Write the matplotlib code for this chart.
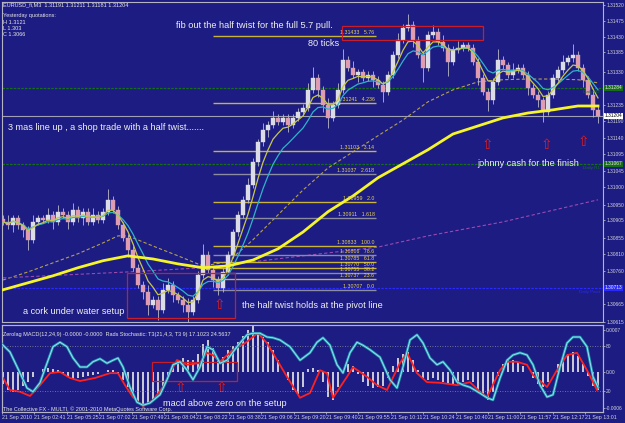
import numpy as np
import pandas as pd
import matplotlib
matplotlib.use('Agg')
import matplotlib.pyplot as plt
from matplotlib.patches import Rectangle

# ---- price data, in pips above 1.30000, one value per bar ----
closes = [90.1, 89.2, 91.2, 89.2, 87.8, 85.0, 90.1, 91.2, 90.7, 92.1,
          90.1, 93.0, 92.1, 90.1, 93.5, 91.2, 93.0, 90.1, 92.1, 90.7,
          93.0, 96.4, 93.5, 89.2, 85.5, 82.1, 77.0, 72.1, 70.1, 66.4,
          67.8, 65.0, 70.7, 72.1, 69.2, 67.8, 66.4, 64.4, 67.8, 75.0,
          80.7, 76.4, 73.5, 71.2, 75.8, 80.7, 87.2, 92.1, 96.4, 100.7,
          107.2, 112.9, 116.4, 117.8, 119.8, 118.7, 119.8, 117.8, 119.8, 121.5,
          122.7, 127.8, 131.2, 127.8, 123.5, 119.8, 123.5, 127.8, 136.4, 134.1,
          132.1, 132.9, 131.2, 132.1, 130.7, 129.2, 127.2, 132.1, 137.8, 142.1,
          145.5, 146.4, 142.1, 137.8, 134.1, 143.5, 144.4, 141.5, 139.8, 135.8,
          139.2, 139.8, 140.6, 139.8, 135.8, 131.2, 127.2, 124.9, 130.1, 136.4,
          134.9, 132.1, 133.5, 134.1, 132.1, 128.4, 126.4, 124.9, 121.5, 126.4,
          131.2, 133.5, 135.8, 136.9, 137.8, 134.1, 130.7, 126.4, 122.1, 120.4]
wick_up = [1, 2, 1, 1, 1, 1, 2, 1, 1, 2, 1, 2, 1, 1, 2, 1, 1, 1, 2, 1,
           1, 3, 1, 1, 1, 1, 1, 1, 1, 2, 1, 1, 2, 2, 1, 1, 1, 2, 1, 1,
           3, 1, 1, 1, 1, 1, 1, 1, 1, 2, 1, 1, 2, 1, 2, 1, 1, 1, 1, 1,
           1, 2, 3, 1, 1, 2, 1, 2, 3, 1, 2, 1, 1, 1, 1, 1, 1, 1, 1, 2,
           1, 3, 1, 1, 1, 1, 2, 1, 2, 1, 1, 2, 1, 1, 1, 1, 1, 1, 1, 3,
           1, 1, 2, 1, 1, 1, 1, 1, 1, 1, 1, 1, 2, 1, 3, 1, 1, 1, 1, 1]
wick_dn = [1, 1, 2, 1, 2, 3, 1, 1, 1, 1, 2, 1, 1, 2, 1, 1, 2, 1, 1, 1,
           1, 1, 1, 1, 1, 2, 1, 1, 2, 3, 1, 3, 1, 1, 2, 1, 2, 3, 1, 1,
           1, 1, 2, 2, 1, 1, 1, 1, 1, 1, 1, 1, 1, 2, 1, 1, 1, 2, 1, 1,
           1, 1, 1, 2, 2, 3, 1, 1, 1, 1, 1, 2, 1, 1, 2, 1, 3, 1, 1, 1,
           1, 1, 2, 1, 4, 1, 1, 1, 1, 4, 1, 1, 1, 1, 1, 2, 1, 3, 1, 1,
           1, 1, 1, 1, 1, 2, 1, 2, 3, 1, 1, 1, 1, 1, 1, 1, 2, 1, 2, 2]
first_open = 91.0

# slow moving averages, read every few bars
yel_bars = [0, 5, 10, 15, 20, 25, 30, 35, 40, 45, 50, 55, 60, 65, 70, 75, 80, 85, 90, 95, 100, 105, 110, 115, 119]
yel_ma = [70.7, 72.7, 74.7, 77.0, 79.0, 80.4, 79.5, 78.1, 77.0, 77.5, 79.2, 82.4, 87.2, 93.0, 97.5,
          102.7, 106.7, 110.7, 115.2, 117.5, 119.8, 121.2, 122.1, 123.2, 123.2]
tan_bars = [0, 5, 10, 15, 20, 23, 25, 30, 35, 40, 45, 50, 55, 60, 65, 70, 75, 80, 85, 90, 95, 100, 105, 110, 115, 119]
tan_ma = [73.5, 75.8, 78.4, 81.0, 84.1, 86.1, 86.1, 83.2, 80.4, 77.5, 78.7, 85.0, 92.1, 99.2, 105.5,
          110.1, 114.7, 119.2, 124.4, 127.8, 130.1, 130.7, 130.9, 130.9, 130.7, 129.8]
pur_bars = [0, 25, 40, 50, 60, 75, 85, 100, 119]
pur_ma = [74.1, 75.8, 77.0, 78.7, 80.4, 82.9, 86.1, 90.1, 96.4]

# fibonacci levels
fib_prices = [1.31433, 1.31241, 1.31103, 1.31037, 1.30959, 1.30911, 1.30833,
              1.30806, 1.30785, 1.30770, 1.30755, 1.30737, 1.30707]
fib_ratios = ['5.76', '4.236', '3.14', '2.618', '2.0', '1.618', '100.0',
              '78.6', '61.8', '50.0', '38.2', '23.6', '0.0']
fib_grey = [0, 0, 0, 1, 0, 1, 0, 1, 0, 0, 1, 0, 1]
fib_from, fib_to = 42, 74.6

# pivot lines and current price
pivot_prices = [1.31284, 1.31067, 1.30713]
pivot_names = ['Daily R2', 'Daily R1', 'Daily Pivot']
pivot_colors = ['#157015', '#157015', '#2a2aff']
last_price = 1.31204

# price axis
price_ticks = [1.31520, 1.31475, 1.31430, 1.31385, 1.31330, 1.31235, 1.31190, 1.31140, 1.31095,
               1.31045, 1.31000, 1.30950, 1.30905, 1.30855, 1.30810, 1.30760, 1.30665, 1.30615]

# ---- indicator window ----
# zerolag macd histogram, units of 0.0001
macd_hist = [-2.0, -3.0, -3.3, -3.0, -2.3, -1.7, -0.8, 0.0, 0.5, 0.7, 0.5, 0.3, -0.3, -0.8, -1.2, -1.0, -0.8, -0.7, -0.5, -0.3,
             0.0, 0.3, 0.3, -0.3, -1.3, -2.5, -3.7, -5.0, -5.7, -5.3, -4.7, -3.7, -2.3, -0.8, 0.8, 2.0, 2.3, 2.0, 2.0, 3.0,
             4.7, 5.3, 4.0, 2.3, 2.5, 3.7, 4.3, 5.0, 6.0, 7.0, 8.0, 6.7, 5.8, 5.0, 3.7, 2.0, 0.0, -1.3, -3.0, -3.7,
             -2.5, 0.5, 0.7, 0.3, -1.7, -4.2, -4.7, -2.5, 0.3, 1.3, 1.0, -0.3, -1.7, -2.3, -2.7, -2.5, -2.3, -1.0, 1.0, 2.3,
             3.0, 3.3, 2.0, 0.3, -1.0, -1.3, -1.0, -1.3, -1.7, -2.0, -2.2, -2.0, -1.7, -1.3, -1.7, -3.0, -4.0, -4.7, -3.3, -0.7,
             1.3, 2.0, 2.0, 1.7, 1.0, 0.0, -1.0, -2.0, -2.5, -1.7, 0.0, 1.3, 2.3, 3.0, 3.3, 2.7, 1.3, -0.7, -2.3, -3.0]
red_bars = [0, 1.4, 3.4, 5.4, 7.4, 9.4, 11.4, 13.4, 15.4, 18.4, 21.4, 23, 24.4, 26, 28, 30, 32, 33.4, 34.8, 36.8,
            39.4, 40.8, 42, 43.4, 46, 48.4, 51, 52.8, 54.8, 56.8, 59.4, 61.4, 63.4, 64.8, 66, 68.8, 70, 72.8, 74.8, 76.8,
            79.4, 80.8, 82.8, 84.8, 87.4, 90.8, 93.4, 95.4, 96.8, 99.4, 100.8, 102.8, 104.8, 106, 108.8, 110.8, 112.8, 114.8, 116.8, 118.8]
red_line = [-1.0, -3.0, -3.3, -4.0, -2.2, -0.2, 0.0, -1.0, -1.5, -1.0, -0.2, -0.2, -2.2, -4.2, -5.7, -4.7, -2.5, -0.2, 2.0, 1.2,
            1.5, 3.2, 2.8, 1.7, 3.7, 4.8, 6.5, 4.8, 2.0, -0.8, -4.3, -3.5, 0.3, -0.2, -4.3, -0.8, 0.8, -0.8, -2.2, -3.0,
            1.5, 3.2, -0.2, -1.7, -1.8, -2.2, -1.7, -3.3, -4.2, 0.3, 1.7, 1.7, 1.2, -0.5, -2.5, 0.3, 2.8, 3.2, 0.3, -3.0]
# stochastic T3, 0-100
stoch_bars = [-0.6, 1.4, 3.4, 4.8, 6, 7.4, 8.8, 10, 11.4, 12.8, 14, 15.4, 16.8, 18, 19.4, 20.8, 22, 23, 24, 25.4,
              26.8, 28, 29.4, 31.4, 32.8, 34, 35.4, 36.8, 38, 39.4, 40.8, 42, 43.4, 44.8, 46, 47.4, 48.8, 50, 51.4, 52.8,
              54, 55.4, 57.4, 59.4, 61.4, 62.8, 64, 65.4, 66.8, 68, 69.4, 70.8, 72, 73.4, 75.4, 77.4, 78.8, 80, 81.4, 82.8,
              84, 85.4, 86.8, 88, 89.4, 90.8, 92, 93.4, 95.4, 96.8, 98, 99.4, 100.8, 102, 103.4, 104.8, 106, 107.4, 108.8, 110,
              111.4, 112.8, 114, 115.4, 116.8, 118, 119]
stoch = [85, 72, 44, 24, 19, 31, 57, 79, 85, 79, 64, 52, 52, 59, 63, 57, 61, 64, 52, 25,
         5, 1, 4, 15, 35, 55, 59, 48, 35, 52, 79, 75, 57, 61, 72, 84, 95, 97, 97, 92,
         91, 88, 79, 61, 71, 85, 91, 81, 55, 44, 71, 85, 81, 75, 65, 35, 24, 52, 88, 95,
         84, 64, 55, 59, 48, 32, 28, 25, 17, 11, 8, 37, 61, 68, 71, 68, 55, 28, 12, 15,
         52, 84, 92, 92, 79, 39, 25]

time_labels = ['21 Sep 2010', '21 Sep 02:41', '21 Sep 05:25', '21 Sep 07:02', '21 Sep 07:49',
               '21 Sep 08:04', '21 Sep 08:22', '21 Sep 08:38', '21 Sep 09:06', '21 Sep 09:20',
               '21 Sep 09:40', '21 Sep 09:55', '21 Sep 10:11', '21 Sep 10:24', '21 Sep 10:40',
               '21 Sep 11:00', '21 Sep 11:57', '21 Sep 12:17', '21 Sep 13:01']

BG = '#1c1c82'
FG = '#d2d2dc'
SMALL_FONT = 'Liberation Sans'
W, H = 625, 423


def fp(x, y):
    # figure pixel -> figure fraction
    return x / W, 1 - y / H


def pips(p):
    return (p - 1.30) * 1e4


fig = plt.figure(figsize=(6.25, 4.23), dpi=100, facecolor=BG)
ax = fig.add_axes([2 / W, 101 / H, 601 / W, 320 / H], facecolor=BG)
axi = fig.add_axes([2 / W, 11 / H, 601 / W, 87 / H], facecolor=BG)

n = len(closes)
x = np.arange(n)
c = np.array(closes)
o = np.concatenate([[first_open], c[:-1]])
hi = np.maximum(o, c) + np.array(wick_up)
lo = np.minimum(o, c) - np.array(wick_dn)
up = c >= o

# candles
ax.vlines(x, lo, hi, color='#b9b9c8', lw=0.6, zorder=3)
body = np.where(np.abs(c - o) < 0.4, 0.4, c - o)
ax.bar(x[up], body[up], bottom=o[up], width=0.72, color='#dcdce6', edgecolor='#dcdce6', lw=0.3, zorder=4)
ax.bar(x[~up], body[~up], bottom=o[~up], width=0.72, color='#e29cb2', edgecolor='#c8a0b4', lw=0.3, zorder=4)

# moving averages
cs = pd.Series(c)
ax.plot(x, cs.ewm(span=9).mean(), color='#30b4c8', lw=0.9, zorder=5)
ax.plot(x, cs.ewm(span=5).mean(), color='#c8c84a', lw=0.9, zorder=5)
ax.plot(yel_bars, yel_ma, color='#f5f52a', lw=2.0, zorder=6)
ax.plot(tan_bars, tan_ma, color='#b4a050', lw=0.8, ls=(0, (3, 2)), zorder=2)
ax.plot(pur_bars, pur_ma, color='#9a4ab0', lw=0.8, ls=(0, (3, 2)), zorder=2)

# pivots and last price
tag = dict(transform=ax.get_yaxis_transform(), fontsize=3.5, family=SMALL_FONT,
           va='center', ha='left', zorder=10, clip_on=False)
for p, name, col in zip(pivot_prices, pivot_names, pivot_colors):
    ax.axhline(pips(p), color=col, lw=0.9, ls=(0, (2, 1)), zorder=1)
    ax.text(119.3, pips(p) - 0.6, name, color=col, fontsize=3.2, family=SMALL_FONT,
            ha='right', va='top', zorder=7)
    ax.text(1.003, pips(p), f'{p:.5f}', color='#e6e6e6',
            bbox=dict(boxstyle='square,pad=0.12', fc=col, ec='none'), **tag)
ax.axhline(pips(last_price), color='#a0a0b4', lw=0.8, zorder=1)
ax.text(1.003, pips(last_price), f'{last_price:.5f}', color='black',
        bbox=dict(boxstyle='square,pad=0.12', fc='white', ec='none'), **tag)

# fibonacci
for p, r, g in zip(fib_prices, fib_ratios, fib_grey):
    col = '#8c8ca0' if g else '#c8b43c'
    ax.hlines(pips(p), fib_from, fib_to, color=col, lw=1.0, zorder=2)
    ax.text(fib_to - 0.3, pips(p) + 0.3, f'{p:.5f}   {r}', color='#e6d25a', fontsize=3.8,
            family=SMALL_FONT, ha='right', va='bottom', zorder=7)

# red boxes and arrows
ax.add_patch(Rectangle((67.8, 142.1), 28.2, 4.0, fill=False, ec='#c81e28', lw=0.9, zorder=8))
ax.add_patch(Rectangle((24.8, 62.7), 21.6, 12.8, fill=False, ec='#c81e28', lw=0.9, zorder=8))
for bx, by in [(43.2, 66.4), (96.8, 112.1), (108.6, 112.1), (116.0, 113.0)]:
    ax.text(bx, by, '\u21e7', color='#e01e1e', fontsize=10, ha='center', va='center', zorder=9)

ax.set_xlim(-0.2, 120)
ax.set_ylim(pips(1.30615), pips(1.31529))
ax.set_xticks([])
ax.yaxis.tick_right()
ax.set_yticks([pips(p) for p in price_ticks])
ax.set_yticklabels([f'{p:.5f}' for p in price_ticks])

# indicator window
axi.bar(x, macd_hist, width=0.55, color='#c8c8d4', zorder=2)
axs = axi.twinx()
axs.axhline(80, color='#8c8ca0', lw=0.6, ls=(0, (1, 2)))
axs.axhline(20, color='#8c8ca0', lw=0.6, ls=(0, (1, 2)))
axs.plot(stoch_bars, stoch, color='#1e96aa', lw=1.9, zorder=3)
axs.plot(stoch_bars, stoch, color='#96e1f5', lw=0.7, zorder=4)
axi.plot(red_bars, red_line, color='#ff2020', lw=1.3, zorder=5)
axi.add_patch(Rectangle((29.8, -1.5), 17, 3.17, fill=False, ec='#c81e28', lw=0.9, zorder=8))
for bx in [35.4, 43.6]:
    axi.text(bx, -2.7, '\u21e7', color='#e01e1e', fontsize=10, ha='center', va='center', zorder=9)

axi.set_xlim(-0.2, 120)
axi.set_ylim(-6.67, 7.83)
axs.set_ylim(-8, 108)
axi.yaxis.tick_right()
axi.set_yticks([7, 0, -6])
axi.set_yticklabels(['0.0007', '0.00', '-0.0006'])
axs.set_yticks([80, 20])
axs.set_yticklabels(['80', '20'])
axi.set_xticks(np.arange(len(time_labels)) * 6.48 - 0.2)
axi.set_xticklabels(time_labels, ha='left')

for a in (ax, axi, axs):
    for s in a.spines.values():
        s.set_color('#b4b4c3')
        s.set_linewidth(0.8)
    a.tick_params(colors=FG, labelsize=3.5, length=1.5, width=0.5, pad=0.8)
    for lab in a.get_xticklabels() + a.get_yticklabels():
        lab.set_family(SMALL_FONT)
axi.tick_params(axis='x', labelsize=3.8)

# texts
small = dict(color='#e6e6e6', fontsize=4.0, family=SMALL_FONT, va='center', ha='left')
fig.text(*fp(3, 5), 'EURUSD_fi,M3  1.31191 1.31211 1.31181 1.31204', **small)
fig.text(*fp(3, 16), 'Yesterday quotations:', **small)
fig.text(*fp(3, 22), 'H 1.3121', **small)
fig.text(*fp(3, 28), 'L 1.303', **small)
fig.text(*fp(3, 34), 'C 1.3066', **small)
fig.text(*fp(3, 334), 'Zerolag MACD(12,24,9) -0.0000 -0.0000  Rads Stochastic: T3(21,4,3, T3 9) 17.1023 24.5637', **small)
fig.text(*fp(3, 409), 'The Collective FX - MULTI, \u00a9 2001-2010 MetaQuotes Software Corp.', **small)

note = dict(color='#f0f0f0', fontsize=6.6, family='Liberation Sans', va='center', ha='left', zorder=20)
fig.text(*fp(176, 25), 'fib out the half twist for the full 5.7 pull.', **note)
fig.text(*fp(308, 43), '80 ticks', **note)
fig.text(*fp(8, 128), '3 mas line up , a shop trade with a half twist.......', **note)
fig.text(*fp(477, 164), 'johnny cash for the finish', **note)
fig.text(*fp(23, 311), 'a cork under water setup', **note)
fig.text(*fp(242, 305), 'the half twist holds at the pivot line', **note)
fig.text(*fp(163, 403), 'macd above zero on the setup', **note)

fig.savefig('out.png', dpi=100, facecolor=BG)
